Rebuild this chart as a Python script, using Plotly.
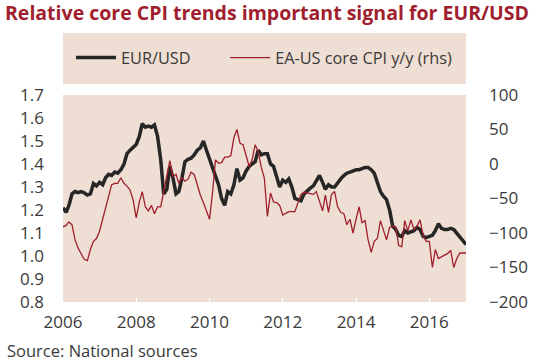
import pandas as pd
import plotly.graph_objects as go

dates = pd.date_range("2006-01-01", "2017-01-01", freq="MS")

eurusd = [
    1.21, 1.19, 1.22, 1.27, 1.28, 1.275, 1.28, 1.275, 1.265, 1.27, 1.315, 1.305,
    1.32, 1.31, 1.34, 1.355, 1.35, 1.365, 1.36, 1.375, 1.40, 1.445, 1.46, 1.47,
    1.485, 1.52, 1.575, 1.56, 1.565, 1.56, 1.57, 1.52, 1.42, 1.27, 1.29, 1.39,
    1.34, 1.27, 1.28, 1.34, 1.41, 1.42, 1.425, 1.44, 1.46, 1.47, 1.50, 1.46,
    1.42, 1.38, 1.34, 1.31, 1.25, 1.22, 1.28, 1.27, 1.31, 1.38, 1.33, 1.34,
    1.37, 1.39, 1.40, 1.41, 1.46, 1.44, 1.445, 1.445, 1.40, 1.39, 1.345, 1.30,
    1.33, 1.32, 1.335, 1.30, 1.25, 1.245, 1.24, 1.27, 1.285, 1.295, 1.305, 1.33,
    1.35, 1.32, 1.29, 1.31, 1.30, 1.30, 1.32, 1.335, 1.35, 1.36, 1.365, 1.37,
    1.375, 1.375, 1.38, 1.385, 1.385, 1.375, 1.36, 1.325, 1.28, 1.26, 1.245, 1.20,
    1.13, 1.115, 1.09, 1.085, 1.11, 1.10, 1.105, 1.11, 1.125, 1.115, 1.085, 1.08,
    1.085, 1.09, 1.11, 1.14, 1.12, 1.115, 1.115, 1.12, 1.115, 1.10, 1.085, 1.065,
    1.05,
]

core_cpi_diff = [
    -91, -89, -84, -88, -110, -122, -130, -138, -140, -124, -112, -108,
    -97, -80, -64, -45, -30, -28, -28, -20, -28, -32, -38, -52,
    -78, -55, -40, -62, -68, -60, -72, -62, -62, -40, -18, 5,
    -18, -15, -28, -20, -25, -22, -12, -15, -30, -45, -56, -68,
    -80, -40, 6, 1, 2, 10, 10, 12, 38, 50, 30, 28,
    10, -4, 6, 28, 18, -5, -20, -76, -42, -55, -56, -60,
    -74, -72, -69, -69, -69, -56, -44, -41, -42, -43, -44, -40,
    -55, -68, -45, -70, -44, -40, -62, -70, -72, -88, -80, -100,
    -80, -62, -85, -82, -110, -128, -112, -108, -82, -96, -110, -92,
    -90, -91, -118, -120, -82, -97, -81, -95, -90, -81, -104, -112,
    -112, -150, -124, -137, -134, -132, -130, -125, -150, -137, -129, -129,
    -129,
]

left_ticks = [0.8, 0.9, 1.0, 1.1, 1.2, 1.3, 1.4, 1.5, 1.6, 1.7]
right_ticks = [-200, -150, -100, -50, 0, 50, 100]

series_names = ["EUR/USD", "EA-US core CPI y/y (rhs)"]
title_text = "Relative core CPI trends important signal for EUR/USD"
source_text = "Source: National sources"

BG = "#EFDED3"
TXT = "#3a3a3a"
FONT = "Open Sans"
PAD = "\u00a0" * 7  # visual spacing between legend entries

fig = go.Figure()
fig.add_trace(go.Scatter(x=dates, y=eurusd, name=series_names[0] + PAD, mode="lines",
                         line=dict(color="#262626", width=3.5)))
fig.add_trace(go.Scatter(x=dates, y=core_cpi_diff, name=series_names[1],
                         mode="lines", yaxis="y2",
                         line=dict(color="#9E1F2C", width=1.3)))

W, H = 560, 362
L, R, T, B = 63, 94, 95, 60
pw = W - L - R
ph = H - T - B

fig.update_layout(
    width=W, height=H,
    margin=dict(l=L, r=R, t=T, b=B, autoexpand=False),
    paper_bgcolor="white", plot_bgcolor=BG,
    font=dict(family=FONT, color=TXT, size=16),
    showlegend=True,
    legend=dict(orientation="h", x=(75 - L - 4) / pw, xanchor="left",
                y=(302 - 58) / ph, yanchor="middle",
                bgcolor="rgba(0,0,0,0)", font=dict(size=16.3, color=TXT),
                itemwidth=40, tracegroupgap=0),
    title=dict(text="<b>" + title_text + "</b>", x=5 / W, xanchor="left",
               xref="container", y=1 - 13 / H, yanchor="middle", yref="container",
               font=dict(family=FONT, size=19.5, color="#A01E2E")),
    xaxis=dict(range=[dates[0], dates[-1]], tickformat="%Y", dtick="M24",
               tick0="2006-01-01", showgrid=False, zeroline=False,
               ticks="inside", ticklen=4, tickcolor="white", tickwidth=1,
               ticklabelstandoff=8, tickfont=dict(size=17, color=TXT),
               showline=False, automargin=False),
    yaxis=dict(range=[0.8, 1.7], tickvals=left_ticks, tickformat=".1f",
               showgrid=False, zeroline=False, ticks="", automargin=False,
               ticklabelstandoff=18, tickfont=dict(size=17, color=TXT)),
    yaxis2=dict(range=[-200, 100], tickvals=right_ticks, overlaying="y",
                side="right", showgrid=False, zeroline=False, ticks="",
                automargin=False,
                ticklabelstandoff=22, tickfont=dict(size=17, color=TXT)),
    shapes=[dict(type="rect", xref="paper", yref="paper", x0=0, x1=1,
                 y0=(302 - 84) / ph, y1=(302 - 33) / ph,
                 fillcolor=BG, line=dict(width=0), layer="below")],
    annotations=[dict(text=source_text, xref="paper", yref="paper",
                      x=-58 / pw, y=(302 - 350) / ph,
                      xanchor="left", yanchor="middle", showarrow=False,
                      font=dict(size=16.5, color=TXT))],
)

fig.write_html("out.html", config={"displayModeBar": False},
               post_script="document.body.style.margin='0';document.body.style.padding='0';")
